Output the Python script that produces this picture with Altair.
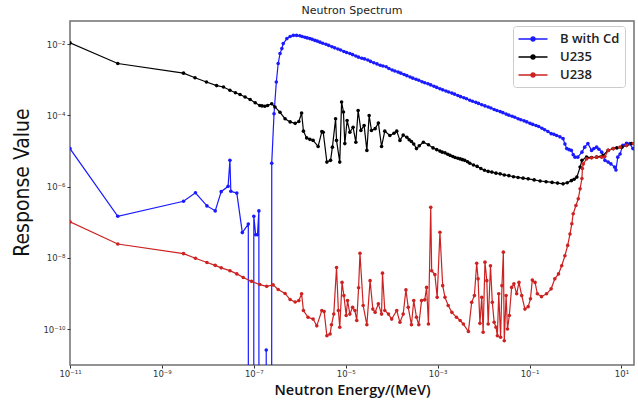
import altair as alt
import pandas as pd

# ---------------------------------------------------------------------------
# Values, stored as log10(value)
# (energy in MeV, response value).  ZERO marks points whose response is 0
# (drawn as lines dropping out of the bottom of the log axis).
# ---------------------------------------------------------------------------
ZERO = -300.0

series_names = ["B with Cd", "U235", "U238"]
series_colors = ["#1a1aff", "#000000", "#cc2222"]

b_cd_log_energy = [
    -11.00, -9.96, -8.53, -8.27, -8.02, -7.84, -7.71, -7.56, -7.52, -7.50,
    -7.37, -7.25, -7.12, -7.06, -7.00, -6.96, -6.92, -6.89, -6.81, -6.73,
    -6.67, -6.61, -6.56, -6.51, -6.47, -6.43, -6.39, -6.36, -6.28, -6.21,
    -6.14, -6.07, -6.00, -5.89, -5.78, -5.67, -5.56, -5.43, -5.30, -5.17,
    -5.04, -4.91, -4.78, -4.65, -4.52, -4.39, -4.25, -4.12, -3.99, -3.86,
    -3.73, -3.60, -3.47, -3.34, -3.21, -3.08, -2.95, -2.82, -2.69, -2.56,
    -2.43, -2.30, -2.17, -2.04, -1.90, -1.77, -1.64, -1.51, -1.38, -1.25,
    -1.12, -0.99, -0.86, -0.73, -0.60, -0.53, -0.41, -0.27, -0.19, -0.09,
    -0.01, 0.05, 0.14, 0.20, 0.27, 0.35, 0.40, 0.46, 0.51, 0.57,
    0.64, 0.71, 0.77, 0.85, 0.88, 0.92, 0.97, 1.03, 1.11, 1.18,
    1.25,
]
b_cd_log_response = [
    -4.93, -6.83, -6.41, -6.17, -6.54, -6.68, -6.14, -5.99, -5.26, -6.13,
    -6.18, -7.29, -7.05, ZERO, -6.83, -7.35, -7.35, -6.68, ZERO, -10.59,
    ZERO, -5.34, -3.95, -3.06, -2.54, -2.26, -2.12, -1.98, -1.84, -1.78,
    -1.75, -1.75, -1.76, -1.80, -1.84, -1.89, -1.94, -2.00, -2.07, -2.13,
    -2.20, -2.26, -2.33, -2.39, -2.44, -2.52, -2.59, -2.63, -2.72, -2.78,
    -2.85, -2.92, -2.98, -3.05, -3.11, -3.18, -3.25, -3.31, -3.37, -3.44,
    -3.50, -3.57, -3.63, -3.70, -3.76, -3.83, -3.89, -3.96, -4.02, -4.09,
    -4.15, -4.22, -4.28, -4.36, -4.45, -4.51, -4.56, -4.65, -4.93, -4.98,
    -5.17, -5.17, -5.03, -4.89, -4.79, -4.98, -4.93, -4.89, -4.95, -5.03,
    -5.26, -5.31, -5.36, -5.45, -5.53, -5.17, -5.08, -4.84, -4.78, -4.79,
    -4.93,
]
# densely sampled markers along the falling (1/v) part of the B with Cd curve
b_cd_dense_log_energy = [
    -5.95, -5.84, -5.73, -5.62, -5.50, -5.37, -5.24, -5.11, -4.98, -4.85,
    -4.72, -4.59, -4.46, -4.32, -4.19, -4.06, -3.93, -3.80, -3.67, -3.54,
    -3.41, -3.28, -3.15, -3.02, -2.89, -2.76, -2.63, -2.50, -2.37, -2.24,
    -2.11, -1.97, -1.84, -1.71, -1.58, -1.45, -1.32, -1.19, -1.06, -0.93,
    -0.80, -0.67, -0.47, -0.34, -0.23, -0.14, -0.05,
]
b_cd_dense_log_response = [
    -1.78, -1.82, -1.86, -1.91, -1.97, -2.03, -2.10, -2.16, -2.23, -2.29,
    -2.36, -2.41, -2.48, -2.55, -2.61, -2.68, -2.75, -2.81, -2.88, -2.95,
    -3.01, -3.08, -3.14, -3.21, -3.28, -3.34, -3.40, -3.47, -3.53, -3.60,
    -3.66, -3.73, -3.79, -3.86, -3.92, -3.99, -4.05, -4.12, -4.18, -4.25,
    -4.31, -4.40, -4.53, -4.60, -4.80, -4.96, -5.10,
]

u235_log_energy = [
    -11.00, -9.96, -8.53, -8.28, -8.03, -7.81, -7.66, -7.52, -7.30, -7.08,
    -6.87, -6.76, -6.61, -6.54, -6.43, -6.32, -6.21, -6.10, -6.02, -5.96,
    -5.92, -5.85, -5.78, -5.71, -5.60, -5.52, -5.49, -5.41, -5.33, -5.29,
    -5.22, -5.20, -5.13, -5.09, -5.05, -5.02, -4.97, -4.91, -4.84, -4.78,
    -4.73, -4.67, -4.60, -4.54, -4.49, -4.44, -4.36, -4.29, -4.22, -4.15,
    -4.04, -3.89, -3.82, -3.67, -3.57, -3.46, -3.31, -3.10, -2.95, -2.84,
    -2.73, -2.62, -2.51, -2.41, -2.30, -2.14, -1.98, -1.82, -1.64, -1.45,
    -1.25, -1.03, -0.77, -0.51, -0.27, -0.09, 0.03, 0.10, 0.14, 0.24,
    0.46, 0.60, 0.71, 0.82, 1.01, 1.11, 1.22,
]
u235_log_response = [
    -1.96, -2.54, -2.81, -2.94, -3.06, -3.16, -3.20, -3.29, -3.41, -3.55,
    -3.72, -3.74, -3.67, -3.76, -3.91, -4.09, -4.18, -4.22, -4.17, -3.93,
    -4.44, -4.63, -4.67, -4.70, -4.87, -4.45, -4.47, -5.31, -5.26, -4.89,
    -4.09, -4.70, -5.31, -3.62, -3.90, -4.79, -4.14, -4.47, -4.33, -4.75,
    -3.86, -4.42, -4.28, -4.98, -4.00, -4.42, -4.37, -4.21, -4.87, -4.44,
    -4.56, -4.44, -4.70, -4.61, -4.73, -4.93, -4.75, -4.91, -5.00, -5.05,
    -5.12, -5.18, -5.22, -5.26, -5.34, -5.43, -5.54, -5.59, -5.64, -5.69,
    -5.74, -5.78, -5.84, -5.88, -5.92, -5.83, -5.73, -5.45, -5.26, -5.17,
    -5.17, -5.12, -4.98, -4.93, -4.89, -4.84, -4.79,
]
# densely sampled markers on the smoother stretches of the U235 curve
u235_dense_log_energy = [
    -7.40, -7.19, -6.97, -6.82, -6.70, -3.95, -3.75, -3.62, -3.52, -3.40,
    -3.20, -3.02, -2.90, -2.78, -2.67, -2.56, -2.46, -2.35, -2.22, -2.06,
    -1.90, -1.73, -1.55, -1.35, -1.14, -0.90, -0.64, -0.39, -0.18, -0.03,
    0.35, 0.90,
]
u235_dense_log_response = [
    -3.36, -3.48, -3.64, -3.73, -3.72, -4.50, -4.55, -4.68, -4.80, -4.85,
    -4.82, -4.96, -5.03, -5.09, -5.15, -5.20, -5.24, -5.30, -5.39, -5.49,
    -5.57, -5.62, -5.67, -5.72, -5.76, -5.81, -5.86, -5.90, -5.89, -5.79,
    -5.18, -4.91,
]

u238_log_energy = [
    -11.00, -9.96, -8.53, -8.27, -8.02, -7.84, -7.71, -7.52, -7.37, -7.23,
    -7.05, -6.87, -6.72, -6.58, -6.47, -6.32, -6.21, -6.10, -6.02, -5.96,
    -5.92, -5.82, -5.71, -5.63, -5.52, -5.47, -5.41, -5.34, -5.31, -5.26,
    -5.20, -5.16, -5.13, -5.08, -5.04, -4.99, -4.96, -4.91, -4.85, -4.80,
    -4.76, -4.72, -4.69, -4.62, -4.54, -4.47, -4.41, -4.36, -4.29, -4.22,
    -4.20, -4.15, -4.07, -4.00, -3.89, -3.82, -3.75, -3.69, -3.64, -3.57,
    -3.52, -3.46, -3.41, -3.35, -3.28, -3.24, -3.20, -3.15, -3.13, -3.06,
    -3.01, -2.95, -2.89, -2.84, -2.77, -2.69, -2.59, -2.51, -2.44, -2.33,
    -2.26, -2.20, -2.15, -2.12, -2.08, -2.04, -2.01, -1.97, -1.93, -1.90,
    -1.85, -1.81, -1.77, -1.73, -1.70, -1.67, -1.63, -1.60, -1.57, -1.55,
    -1.51, -1.48, -1.44, -1.39, -1.34, -1.28, -1.23, -1.17, -1.10, -1.03,
    -0.98, -0.94, -0.88, -0.83, -0.74, -0.63, -0.53, -0.45, -0.37, -0.30,
    -0.23, -0.17, -0.12, -0.08, -0.05, 0.01, 0.06, 0.10, 0.14, 0.15,
    0.17, 0.24, 0.35, 0.46, 0.57, 0.64, 0.71, 0.82, 0.97, 1.11,
    1.26,
]
u238_log_response = [
    -6.99, -7.61, -7.88, -8.01, -8.13, -8.21, -8.28, -8.36, -8.45, -8.55,
    -8.66, -8.75, -8.80, -8.76, -8.89, -9.00, -9.17, -9.24, -9.20, -9.01,
    -9.48, -9.67, -9.72, -9.91, -9.48, -9.51, -10.19, -10.14, -9.88, -9.58,
    -8.27, -9.48, -9.95, -8.69, -9.06, -9.62, -9.20, -9.58, -9.39, -9.48,
    -9.76, -8.84, -7.87, -9.34, -9.88, -8.64, -9.44, -9.53, -9.29, -9.58,
    -8.43, -9.48, -9.58, -9.72, -9.48, -9.81, -9.58, -8.90, -9.39, -9.88,
    -9.20, -9.67, -9.88, -9.20, -9.18, -8.83, -9.86, -6.58, -8.36, -8.47,
    -9.11, -7.28, -8.78, -9.11, -9.34, -9.53, -9.67, -9.76, -9.86, -10.07,
    -9.25, -9.06, -8.15, -8.59, -9.84, -9.11, -10.09, -8.12, -8.64, -9.86,
    -8.22, -9.25, -9.81, -9.95, -10.19, -9.01, -10.23, -8.78, -7.84, -10.33,
    -9.06, -10.00, -9.62, -8.83, -8.73, -9.01, -8.69, -9.06, -9.44, -9.37,
    -9.15, -8.62, -8.69, -9.01, -9.09, -9.01, -8.87, -8.59, -8.45, -8.22,
    -7.94, -7.65, -7.33, -7.04, -6.76, -6.53, -6.34, -6.06, -5.77, -5.49,
    -5.36, -5.22, -5.19, -5.17, -5.17, -5.15, -4.98, -4.93, -4.89, -4.84,
    -4.79,
]

x_tick_exponents = [-11, -9, -7, -5, -3, -1, 1]
x_tick_labels = ["10⁻¹¹", "10⁻⁹", "10⁻⁷", "10⁻⁵", "10⁻³", "10⁻¹", "10¹"]
y_tick_exponents = [-10, -8, -6, -4, -2]
y_tick_labels = ["10⁻¹⁰", "10⁻⁸", "10⁻⁶", "10⁻⁴", "10⁻²"]
x_domain_exponents = [-11.0, 1.273]
y_domain_exponents = [-11.01, -1.345]

# ---------------------------------------------------------------------------
rows = []
for name, le, lr in [
    (series_names[0], b_cd_log_energy + b_cd_dense_log_energy,
     b_cd_log_response + b_cd_dense_log_response),
    (series_names[1], u235_log_energy + u235_dense_log_energy,
     u235_log_response + u235_dense_log_response),
    (series_names[2], u238_log_energy, u238_log_response),
]:
    for e, r in zip(le, lr):
        rows.append({"series": name, "energy": 10.0 ** e, "response": 10.0 ** r})
df = pd.DataFrame(rows)

x_label_expr = "[" + ",".join("'%s'" % s for s in x_tick_labels) + "][round((log(datum.value)/LN10 + 11)/2)]"
y_label_expr = "[" + ",".join("'%s'" % s for s in y_tick_labels) + "][round((log(datum.value)/LN10 + 10)/2)]"

legend_symbol = "M-2,0L2,0M0.28,0A0.28,0.28,0,1,1,-0.28,0A0.28,0.28,0,1,1,0.28,0"

chart = (
    alt.Chart(df)
    .mark_line(
        strokeWidth=1.2,
        clip=True,
        point=alt.OverlayMarkDef(filled=True, size=13, clip=True),
    )
    .encode(
        x=alt.X(
            "energy:Q",
            scale=alt.Scale(
                type="log",
                domain=[10.0 ** x_domain_exponents[0], 10.0 ** x_domain_exponents[1]],
                nice=False,
            ),
            axis=alt.Axis(
                title="Neutron Energy/(MeV)",
                values=[10.0 ** e for e in x_tick_exponents],
                labelExpr=x_label_expr,
                labelFlush=False,
                labelOverlap=False,
                grid=False,
                domain=False,
                tickSize=3,
                tickColor="#333333",
                labelFont="DejaVu Sans",
                labelFontSize=8.5,
                labelColor="#333333",
                labelPadding=1,
                titleFont="Open Sans",
                titleFontSize=14.5,
                titleFontWeight=600,
                titleColor="#111111",
                titleX=282,
                titleY=29,
                titleAlign="center",
                titleBaseline="alphabetic",
            ),
        ),
        y=alt.Y(
            "response:Q",
            scale=alt.Scale(
                type="log",
                domain=[10.0 ** y_domain_exponents[0], 10.0 ** y_domain_exponents[1]],
                nice=False,
            ),
            axis=alt.Axis(
                title="Response Value",
                values=[10.0 ** e for e in y_tick_exponents],
                labelExpr=y_label_expr,
                labelFlush=False,
                labelOverlap=False,
                grid=False,
                domain=False,
                tickSize=3,
                tickColor="#333333",
                labelFont="DejaVu Sans",
                labelFontSize=8.5,
                labelColor="#333333",
                labelPadding=2,
                titleFont="Liberation Sans Narrow, DejaVu Sans Condensed, Roboto Condensed, sans-serif",
                titleFontSize=21,
                titleFontWeight="normal",
                titleColor="#111111",
                titleAngle=-90,
                titleX=-42,
                titleY=161,
                titleAlign="center",
                titleBaseline="alphabetic",
            ),
        ),
        color=alt.Color(
            "series:N",
            scale=alt.Scale(domain=series_names, range=series_colors),
            legend=alt.Legend(
                title=None,
                orient="none",
                legendX=443,
                legendY=5,
                strokeColor="#cccccc",
                fillColor="white",
                cornerRadius=3,
                padding=5,
                symbolType=legend_symbol,
                symbolSize=210,
                symbolStrokeWidth=1.5,
                symbolOffset=7,
                labelFont="Open Sans",
                labelFontSize=13,
                labelFontWeight=600,
                labelColor="#222222",
                labelOffset=19,
                rowPadding=3,
            ),
        ),
    )
    .properties(
        width=564,
        height=344,
        title=alt.TitleParams(
            "Neutron Spectrum",
            fontSize=11,
            font="DejaVu Sans",
            fontWeight="normal",
            color="#222222",
            anchor="middle",
            offset=5,
        ),
        autosize=alt.AutoSizeParams(type="none"),
        padding={"left": 70, "top": 21, "right": 4, "bottom": 36},
    )
    .configure_view(stroke="#707070", strokeWidth=1.5)
)

chart.save("out.html", embed_options={"renderer": "svg", "actions": False})
